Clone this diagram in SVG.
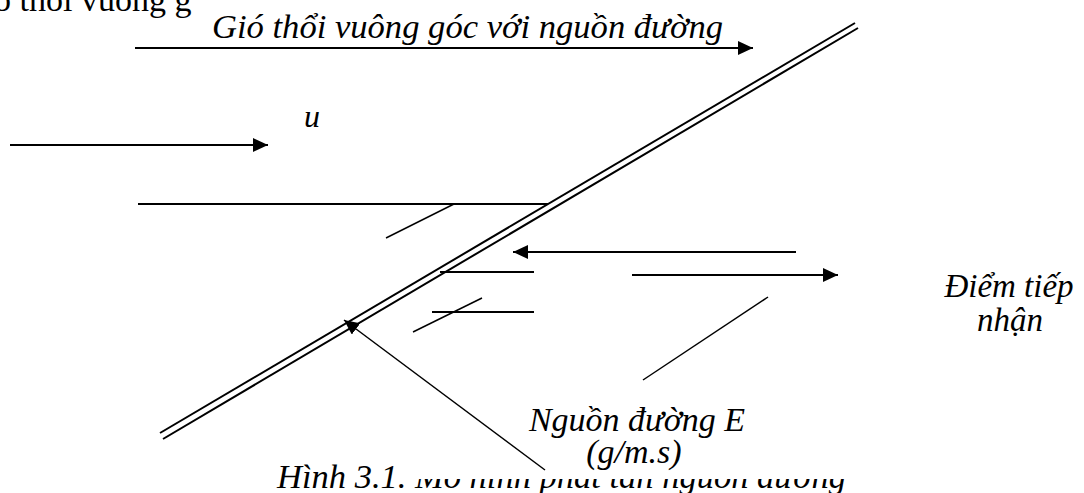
<svg xmlns="http://www.w3.org/2000/svg" width="1084" height="493" viewBox="0 0 1084 493">
<style>
.ln{stroke:#000;stroke-width:2;fill:none}
.thin{stroke:#000;stroke-width:1.5;fill:none}
.t{font-family:"Liberation Serif","Times New Roman",serif;font-style:italic;fill:#000}
.r{font-family:"Liberation Serif","Times New Roman",serif;fill:#000}
</style>
<defs>
<marker id="ah" markerUnits="userSpaceOnUse" markerWidth="16" markerHeight="14" refX="15" refY="7" orient="auto">
<path d="M0,0 L15,7 L0,14 Z" fill="#000"/>
</marker>
<clipPath id="cTop"><rect x="0" y="0" width="192" height="60"/></clipPath>
<clipPath id="cCap"><rect x="0" y="440" width="405" height="53"/><rect x="405" y="479" width="679" height="14"/></clipPath>
</defs>
<g id="top-text"><text class="r" x="-40" y="11" font-size="34" clip-path="url(#cTop)">Gió thổi vuông góc</text></g>
<g id="title"><text class="t" x="212" y="38" font-size="34.6">Gió thổi vuông góc với nguồn đường</text></g>
<g id="u-label"><text class="t" x="304" y="127" font-size="32">u</text></g>
<g id="road">
<line class="ln" x1="160" y1="433" x2="855" y2="23"/>
<line class="ln" x1="163" y1="439" x2="858" y2="28"/>
</g>
<g id="receptor"><text class="t" x="1009" y="297" font-size="33" text-anchor="middle">Điểm tiếp</text><text class="t" x="1010" y="331" font-size="33" text-anchor="middle">nhận</text></g>
<g id="source"><text class="t" x="637" y="431" font-size="34" text-anchor="middle">Nguồn đường E</text><text class="t" x="634" y="463" font-size="34" text-anchor="middle">(g/m.s)</text></g>
<g id="caption"><text class="t" x="277" y="488" font-size="34.5" clip-path="url(#cCap)">Hình 3.1. Mô hình phát tán nguồn đường</text></g>
<g id="connectors">
<line class="ln" x1="135" y1="48" x2="753" y2="48" marker-end="url(#ah)"/>
<line class="ln" x1="10" y1="145" x2="268" y2="145" marker-end="url(#ah)"/>
<line class="ln" x1="138" y1="204" x2="548" y2="204"/>
<line class="thin" x1="386" y1="238" x2="454" y2="204"/>
<line class="ln" x1="796" y1="252" x2="513" y2="252" marker-end="url(#ah)"/>
<line class="ln" x1="440" y1="272" x2="534" y2="272"/>
<line class="ln" x1="632" y1="275" x2="838" y2="275" marker-end="url(#ah)"/>
<line class="ln" x1="432" y1="312" x2="534" y2="312"/>
<line class="thin" x1="413" y1="332" x2="482" y2="298"/>
<line class="thin" x1="768" y1="297" x2="643" y2="380"/>
<line class="thin" x1="545" y1="470" x2="344" y2="320" marker-end="url(#ah)"/>
</g>
</svg>
